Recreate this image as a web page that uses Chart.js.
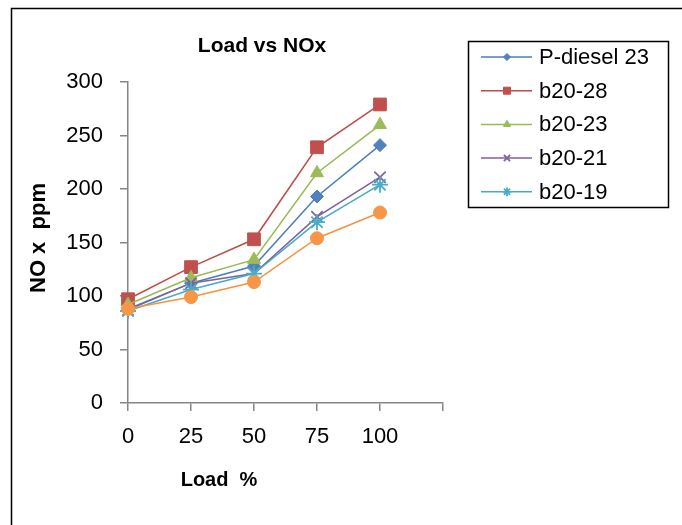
<!DOCTYPE html>
<html>
<head>
<meta charset="utf-8">
<script src="https://cdn.jsdelivr.net/npm/chart.js@4"></script>
<style>
  html, body { margin: 0; padding: 0; background: #fff; }
  #wrap { position: absolute; left: 0; top: 0; width: 682px; height: 525px; }
</style>
</head>
<body>
<div id="wrap"><canvas id="graficoNox" width="682" height="525"></canvas></div>
<script>
// data
const loads = ['0', '25', '50', '75', '100', ''];
const pDiesel23 = [88, 112, 128, 193, 241];
const b2028 = [97, 127, 153, 239, 279];
const b2023 = [92, 117, 134, 215, 260];
const b2021 = [87, 112, 121, 174, 211];
const b2019 = [86, 106, 121, 169, 204];
const unnamed = [88, 99, 113, 154, 178]; // orange series, not in legend

const FONT = "'Liberation Sans', Arial, sans-serif";
const axisGrey = '#868686';

function serie(label, data, line, fill, style, radius, idx) {
  return {
    label,
    data,
    borderColor: line,
    backgroundColor: fill,
    borderWidth: 1.5,
    pointStyle: style,
    pointRadius: radius,
    pointHoverRadius: radius,
    pointBackgroundColor: fill,
    pointBorderColor: fill,
    pointBorderWidth: (style === 'crossRot' || style === 'star') ? 1.8 : 1,
    tension: 0,
    order: 10 - idx
  };
}

const datasets = [
  serie('P-diesel 23', pDiesel23, '#4A7EBB', '#4F81BD', 'rectRot', 6.5, 0),
  serie('b20-28', b2028, '#BE4B48', '#C0504D', 'rect', 9, 1),
  serie('b20-23', b2023, '#98B954', '#9BBB59', 'triangle', 7.5, 2),
  serie('b20-21', b2021, '#7D60A0', '#8064A2', 'crossRot', 8, 3),
  serie('b20-19', b2019, '#46AAC5', '#4BACC6', 'star', 8, 4),
  serie('', unnamed, '#F69240', '#F79646', 'circle', 6.5, 5)
];

// frame, titles and the boxed legend
const decorations = {
  id: 'decorations',
  afterDraw(chart) {
    const ctx = chart.ctx;
    ctx.save();
    ctx.strokeStyle = '#000';
    ctx.lineWidth = 1.5;
    ctx.strokeRect(11.5, 8.5, 720, 600);

    ctx.fillStyle = '#000';
    ctx.textAlign = 'center';
    ctx.textBaseline = 'middle';
    ctx.font = 'bold 21px ' + FONT;
    ctx.fillText('Load vs NOx', 262, 46);

    ctx.font = 'bold 20px ' + FONT;
    ctx.fillText('Load  %', 219, 480);

    ctx.save();
    ctx.translate(39, 238);
    ctx.rotate(-Math.PI / 2);
    ctx.font = 'bold 22px ' + FONT;
    ctx.fillText('NO x  ppm', 0, 0);
    ctx.restore();

    // legend
    ctx.lineWidth = 1.5;
    ctx.strokeStyle = '#000';
    ctx.strokeRect(468.5, 41.5, 200, 166);
    const shown = chart.data.datasets.filter(d => d.label);
    shown.forEach((d, i) => {
      const y = 57 + i * 33.7;
      ctx.strokeStyle = d.borderColor;
      ctx.lineWidth = 1.5;
      ctx.beginPath();
      ctx.moveTo(481, y);
      ctx.lineTo(532, y);
      ctx.stroke();
      ctx.fillStyle = d.backgroundColor;
      ctx.strokeStyle = d.backgroundColor;
      ctx.lineWidth = d.pointBorderWidth;
      Chart.helpers.drawPoint(ctx, {
        pointStyle: d.pointStyle,
        radius: d.pointRadius * 0.55,
        rotation: 0,
        borderWidth: d.pointBorderWidth
      }, 507, y);
      ctx.fillStyle = '#000';
      ctx.textAlign = 'left';
      ctx.font = '22px ' + FONT;
      ctx.fillText(d.label, 539, y + 1);
    });
    ctx.restore();
  }
};

new Chart(document.getElementById('graficoNox'), {
  type: 'line',
  data: { labels: loads, datasets },
  options: {
    responsive: false,
    animation: false,
    devicePixelRatio: 1,
    layout: { padding: { top: 82, right: 239, bottom: 0, left: 0 } },
    plugins: {
      legend: { display: false },
      title: { display: false },
      tooltip: { enabled: false }
    },
    scales: {
      x: {
        type: 'category',
        offset: false,
        afterFit: s => { s.height = 122; },
        grid: { drawOnChartArea: false, tickLength: 8, color: axisGrey, lineWidth: 1.5, offset: false },
        border: { color: axisGrey, width: 1.5 },
        ticks: { color: '#000', font: { family: FONT, size: 22 }, padding: 13, maxRotation: 0, autoSkip: false }
      },
      y: {
        min: 0,
        max: 300,
        afterFit: s => { s.width = 128; },
        grid: { drawOnChartArea: false, tickLength: 8, color: axisGrey, lineWidth: 1.5 },
        border: { color: axisGrey, width: 1.5 },
        ticks: { stepSize: 50, color: '#000', font: { family: FONT, size: 22 }, padding: 17 }
      }
    }
  },
  plugins: [decorations]
});
</script>
</body>
</html>
